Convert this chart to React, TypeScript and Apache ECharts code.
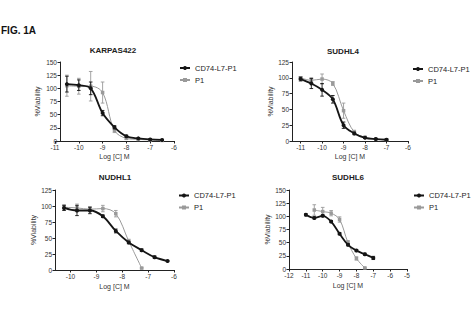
import React, { useEffect, useRef } from "react";
import * as echarts from "echarts";

const FIG_LABEL = "FIG. 1A";
const PANEL_TITLES = ["KARPAS422", "SUDHL4", "NUDHL1", "SUDHL6"];
const SERIES_NAMES = ["CD74-L7-P1", "P1"];
const X_NAME = "Log [C] M";
const Y_NAME = "%Viability";

// KARPAS422
const karpasX = [-10.5, -10, -9.5, -9, -8.5, -8, -7.5, -7, -6.5];
const karpasCd74 = [108, 106, 100, 53, 26, 9, 5, 3, 2];
const karpasCd74Err = [15, 10, 12, 5, 3, 2, 1, 1, 1];
const karpasP1 = [105, 104, 104, 92, 20, 5, 3, 2, 1];
const karpasP1Err = [20, 15, 28, 20, 4, 2, 1, 1, 1];
const karpasXTicks = [-11, -10, -9, -8, -7, -6];

// SUDHL4
const sudhl4X = [-11, -10.5, -10, -9.5, -9, -8.5, -8, -7.5, -7];
const sudhl4Cd74 = [98, 91, 81, 66, 25, 12, 5, 3, 2];
const sudhl4Cd74Err = [3, 8, 10, 6, 5, 2, 1, 1, 1];
const sudhl4P1 = [100, 96, 98, 91, 48, 14, 6, 3, 2];
const sudhl4P1Err = [2, 4, 8, 3, 12, 3, 1, 1, 1];
const sudhl4XTicks = [-11, -10, -9, -8, -7, -6];

// NUDHL1
const nudhl1X = [-10.25, -9.75, -9.25, -8.75, -8.25, -7.75, -7.25, -6.75, -6.25];
const nudhl1Cd74 = [97, 93, 93, 84, 61, 43, 31, 20, 14];
const nudhl1Cd74Err = [4, 8, 5, 2, 3, 2, 2, 2, 1];
const nudhl1P1X = [-10.25, -9.75, -9.25, -8.75, -8.25, -7.75, -7.25];
const nudhl1P1 = [98, 97, 95, 96, 88, 45, 3];
const nudhl1P1Err = [4, 6, 4, 5, 5, 3, 1];
const nudhl1XTicks = [-10, -9, -8, -7, -6];

// SUDHL6
const sudhl6X = [-11, -10.5, -10, -9.5, -9, -8.5, -8, -7.5, -7];
const sudhl6Cd74 = [103, 97, 101, 90, 67, 46, 35, 28, 21];
const sudhl6Cd74Err = [2, 2, 2, 2, 2, 2, 2, 2, 3];
const sudhl6P1X = [-10.5, -10, -9.5, -9, -8.5, -8, -7.5];
const sudhl6P1 = [112, 109, 106, 94, 50, 20, 2];
const sudhl6P1Err = [10, 8, 5, 5, 4, 3, 1];
const sudhl6XTicks = [-12, -11, -10, -9, -8, -7, -6, -5];

const panels = [
  { title: PANEL_TITLES[0], cx: karpasX, c: karpasCd74, ce: karpasCd74Err, px: karpasX, p: karpasP1, pe: karpasP1Err, ticks: karpasXTicks, yMax: 150 },
  { title: PANEL_TITLES[1], cx: sudhl4X, c: sudhl4Cd74, ce: sudhl4Cd74Err, px: sudhl4X, p: sudhl4P1, pe: sudhl4P1Err, ticks: sudhl4XTicks, yMax: 125 },
  { title: PANEL_TITLES[2], cx: nudhl1X, c: nudhl1Cd74, ce: nudhl1Cd74Err, px: nudhl1P1X, p: nudhl1P1, pe: nudhl1P1Err, ticks: nudhl1XTicks, yMax: 125 },
  { title: PANEL_TITLES[3], cx: sudhl6X, c: sudhl6Cd74, ce: sudhl6Cd74Err, px: sudhl6P1X, p: sudhl6P1, pe: sudhl6P1Err, ticks: sudhl6XTicks, yMax: 150 },
];

// layout (pixels)
const layout = [
  { left: 55, top: 62, width: 119, height: 79, xMin: -11, xMax: -6, yOffset: -5, titleX: 113, titleY: 50, legX: 179, legY: 64, yGap: 19, xGap: 12 },
  { left: 292, top: 62, width: 116, height: 79, xMin: -11.4, xMax: -6, yOffset: 0, titleX: 343, titleY: 51, legX: 412, legY: 65, yGap: 17, xGap: 12 },
  { left: 55, top: 190, width: 119, height: 80, xMin: -10.6, xMax: -6, yOffset: 0, titleX: 115, titleY: 177, legX: 178, legY: 191.5, yGap: 16, xGap: 13 },
  { left: 289, top: 190, width: 118, height: 79, xMin: -12, xMax: -5, yOffset: 0, titleX: 348, titleY: 177, legX: 413, legY: 191.5, yGap: 16, xGap: 13 },
];

const FONT = "Liberation Sans";
const BLACK = "#151515";
const GRAY = "#9a9a9a";

function errBar(color: string) {
  return (params: any, api: any) => {
    const x = api.value(0);
    const lo = api.coord([x, api.value(1)]);
    const hi = api.coord([x, api.value(2)]);
    const w = 1.8;
    const st = { stroke: color, lineWidth: 0.9 };
    return {
      type: "group",
      children: [
        { type: "line", shape: { x1: lo[0], y1: lo[1], x2: hi[0], y2: hi[1] }, style: st },
        { type: "line", shape: { x1: lo[0] - w, y1: lo[1], x2: lo[0] + w, y2: lo[1] }, style: st },
        { type: "line", shape: { x1: hi[0] - w, y1: hi[1], x2: hi[0] + w, y2: hi[1] }, style: st },
      ],
    };
  };
}

export default function App() {
  const ref = useRef<HTMLDivElement>(null);
  useEffect(() => {
    const chart = echarts.init(ref.current!, null, { renderer: "svg" });
    const grid: any[] = [];
    const xAxis: any[] = [];
    const yAxis: any[] = [];
    const series: any[] = [];
    const legend: any[] = [];
    const graphic: any[] = [
      { type: "text", x: 1, y: 30, style: { text: FIG_LABEL, font: `bold 10px "${FONT}"`, fill: "#111", textVerticalAlign: "middle" } },
    ];
    panels.forEach((pn, i) => {
      const L = layout[i];
      grid.push({ left: L.left, top: L.top, width: L.width, height: L.height });
      xAxis.push({
        type: "value", gridIndex: i, min: L.xMin, max: L.xMax,
        name: X_NAME, nameLocation: "middle", nameGap: L.xGap,
        nameTextStyle: { fontSize: 7, color: "#333", fontFamily: FONT },
        splitLine: { show: false },
        axisLine: { onZero: false, lineStyle: { color: "#222", width: 1 } },
        axisTick: { length: 2.5, lineStyle: { color: "#222" }, customValues: pn.ticks },
        axisLabel: { fontSize: 6.5, color: "#333", margin: 3, fontFamily: FONT, customValues: pn.ticks },
      });
      yAxis.push({
        type: "value", gridIndex: i, min: 0, max: pn.yMax, interval: 25, offset: L.yOffset,
        name: Y_NAME, nameLocation: "middle", nameGap: L.yGap,
        nameTextStyle: { fontSize: 7, color: "#333", fontFamily: FONT },
        splitLine: { show: false },
        axisLine: { show: true, lineStyle: { color: "#222", width: 1 } },
        axisTick: { show: true, length: 2.5, lineStyle: { color: "#222" } },
        axisLabel: { fontSize: 6.5, color: "#333", margin: 3, fontFamily: FONT },
      });
      graphic.push({ type: "text", x: L.titleX, y: L.titleY, style: { text: pn.title, font: `bold 8px "${FONT}"`, fill: "#222", textAlign: "center", textVerticalAlign: "middle" } });
      legend.push({
        left: L.legX, top: L.legY, orient: "vertical", itemWidth: 10, itemHeight: 5, itemGap: 4, padding: 0,
        textStyle: { fontSize: 7.5, color: "#222", fontFamily: FONT },
        data: SERIES_NAMES,
      });
      // line series first so the legend picks their colours
      series.push({
        type: "line", name: SERIES_NAMES[0], xAxisIndex: i, yAxisIndex: i, smooth: 0.35,
        symbol: "circle", symbolSize: 4, data: pn.cx.map((x, k) => [x, pn.c[k]]),
        lineStyle: { color: BLACK, width: 1.8 }, itemStyle: { color: BLACK }, z: 5,
      });
      series.push({
        type: "line", name: SERIES_NAMES[1], xAxisIndex: i, yAxisIndex: i, smooth: 0.35,
        symbol: "rect", symbolSize: 3.5, data: pn.px.map((x, k) => [x, pn.p[k]]),
        lineStyle: { color: GRAY, width: 1 }, itemStyle: { color: GRAY }, z: 3,
      });
      series.push({
        type: "custom", name: SERIES_NAMES[1], xAxisIndex: i, yAxisIndex: i, itemStyle: { color: GRAY },
        renderItem: errBar(GRAY), data: pn.px.map((x, k) => [x, pn.p[k] - pn.pe[k], pn.p[k] + pn.pe[k]]), z: 2,
      });
      series.push({
        type: "custom", name: SERIES_NAMES[0], xAxisIndex: i, yAxisIndex: i, itemStyle: { color: BLACK },
        renderItem: errBar(BLACK), data: pn.cx.map((x, k) => [x, pn.c[k] - pn.ce[k], pn.c[k] + pn.ce[k]]), z: 4,
      });
    });
    chart.setOption({
      animation: false,
      backgroundColor: "#ffffff",
      textStyle: { fontFamily: FONT },
      grid, xAxis, yAxis, series, legend, graphic,
    });
    return () => chart.dispose();
  }, []);
  return <div ref={ref} style={{ position: "fixed", left: 0, top: 0, width: 475, height: 328 }} />;
}
